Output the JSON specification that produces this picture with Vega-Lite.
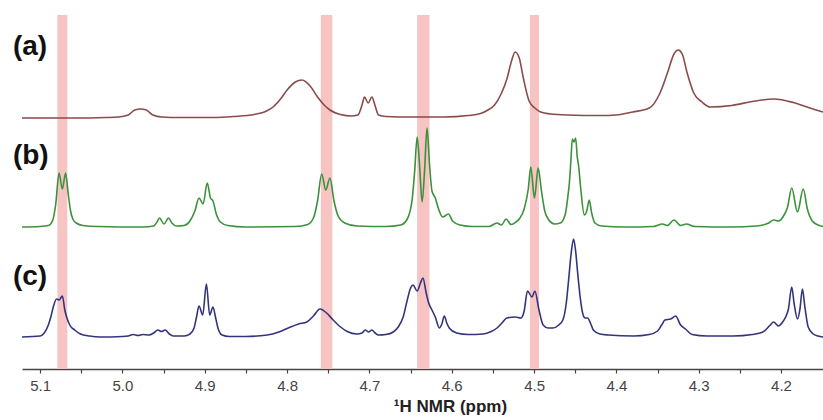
{
  "$schema": "https://vega.github.io/schema/vega-lite/v6.json",
  "width": 801,
  "height": 354,
  "autosize": {"type": "none"},
  "padding": {"left": 22, "top": 15, "right": 0, "bottom": 51},
  "background": "white",
  "config": {"view": {"stroke": null}},
  "datasets": {
    "bands": [
      {"lo": 5.067, "hi": 5.079, "y0": 0, "y1": 354},
      {"lo": 4.745, "hi": 4.759, "y0": 0, "y1": 354},
      {"lo": 4.627, "hi": 4.642, "y0": 0, "y1": 354},
      {"lo": 4.494, "hi": 4.505, "y0": 0, "y1": 354}
    ],
    "labels": [
      {"t": "(a)", "ppm": 5.133, "v": 314},
      {"t": "(b)", "ppm": 5.133, "v": 205},
      {"t": "(c)", "ppm": 5.133, "v": 84}
    ],
    "spec": [
      {"s":"a","ppm":5.122,"v":251},{"s":"a","ppm":5.06,"v":251},{"s":"a","ppm":5.02,"v":251.5},{"s":"a","ppm":5.005,"v":252},{"s":"a","ppm":4.993,"v":254},{"s":"a","ppm":4.985,"v":259},{"s":"a","ppm":4.978,"v":260},{"s":"a","ppm":4.971,"v":259},{"s":"a","ppm":4.963,"v":254},{"s":"a","ppm":4.952,"v":252},{"s":"a","ppm":4.93,"v":251.5},{"s":"a","ppm":4.89,"v":251.5},{"s":"a","ppm":4.865,"v":252.5},{"s":"a","ppm":4.84,"v":254.5},{"s":"a","ppm":4.825,"v":258},{"s":"a","ppm":4.817,"v":262},{"s":"a","ppm":4.808,"v":270},{"s":"a","ppm":4.8,"v":279},{"s":"a","ppm":4.79,"v":287},{"s":"a","ppm":4.782,"v":289},{"s":"a","ppm":4.772,"v":283},{"s":"a","ppm":4.763,"v":272},{"s":"a","ppm":4.755,"v":264},{"s":"a","ppm":4.748,"v":259},{"s":"a","ppm":4.735,"v":254.5},{"s":"a","ppm":4.722,"v":253},{"s":"a","ppm":4.714,"v":254},{"s":"a","ppm":4.709,"v":264},{"s":"a","ppm":4.706,"v":272},{"s":"a","ppm":4.7015,"v":266},{"s":"a","ppm":4.697,"v":272},{"s":"a","ppm":4.693,"v":263},{"s":"a","ppm":4.689,"v":254},{"s":"a","ppm":4.68,"v":252.5},{"s":"a","ppm":4.65,"v":252},{"s":"a","ppm":4.61,"v":252},{"s":"a","ppm":4.58,"v":253.5},{"s":"a","ppm":4.565,"v":255.5},{"s":"a","ppm":4.556,"v":259},{"s":"a","ppm":4.548,"v":264},{"s":"a","ppm":4.54,"v":275},{"s":"a","ppm":4.533,"v":290},{"s":"a","ppm":4.527,"v":309},{"s":"a","ppm":4.523,"v":317},{"s":"a","ppm":4.518,"v":311},{"s":"a","ppm":4.513,"v":291},{"s":"a","ppm":4.506,"v":268},{"s":"a","ppm":4.499,"v":261},{"s":"a","ppm":4.492,"v":257},{"s":"a","ppm":4.48,"v":255},{"s":"a","ppm":4.46,"v":254},{"s":"a","ppm":4.42,"v":253.5},{"s":"a","ppm":4.4,"v":254},{"s":"a","ppm":4.38,"v":257},{"s":"a","ppm":4.36,"v":261},{"s":"a","ppm":4.347,"v":276},{"s":"a","ppm":4.338,"v":296},{"s":"a","ppm":4.33,"v":315},{"s":"a","ppm":4.325,"v":319},{"s":"a","ppm":4.32,"v":315},{"s":"a","ppm":4.314,"v":296},{"s":"a","ppm":4.306,"v":276},{"s":"a","ppm":4.296,"v":267},{"s":"a","ppm":4.286,"v":262},{"s":"a","ppm":4.26,"v":263.5},{"s":"a","ppm":4.235,"v":267.5},{"s":"a","ppm":4.209,"v":270},{"s":"a","ppm":4.185,"v":266.5},{"s":"a","ppm":4.165,"v":261},{"s":"a","ppm":4.149,"v":257},

      {"s":"b","ppm":5.122,"v":142},{"s":"b","ppm":5.1,"v":142.5},{"s":"b","ppm":5.09,"v":143.5},{"s":"b","ppm":5.085,"v":148},{"s":"b","ppm":5.081,"v":165},{"s":"b","ppm":5.077,"v":196},{"s":"b","ppm":5.073,"v":180},{"s":"b","ppm":5.069,"v":196},{"s":"b","ppm":5.066,"v":176},{"s":"b","ppm":5.063,"v":158},{"s":"b","ppm":5.06,"v":149.5},{"s":"b","ppm":5.056,"v":146},{"s":"b","ppm":5.048,"v":143.5},{"s":"b","ppm":5.03,"v":142.5},{"s":"b","ppm":4.975,"v":142},{"s":"b","ppm":4.962,"v":143},{"s":"b","ppm":4.958,"v":147},{"s":"b","ppm":4.955,"v":151},{"s":"b","ppm":4.9495,"v":145},{"s":"b","ppm":4.944,"v":151},{"s":"b","ppm":4.94,"v":146},{"s":"b","ppm":4.934,"v":143},{"s":"b","ppm":4.925,"v":143.5},{"s":"b","ppm":4.918,"v":148},{"s":"b","ppm":4.912,"v":158},{"s":"b","ppm":4.907,"v":171},{"s":"b","ppm":4.902,"v":165},{"s":"b","ppm":4.897,"v":186},{"s":"b","ppm":4.893,"v":171},{"s":"b","ppm":4.89,"v":168},{"s":"b","ppm":4.886,"v":155},{"s":"b","ppm":4.881,"v":147},{"s":"b","ppm":4.872,"v":143.5},{"s":"b","ppm":4.85,"v":142},{"s":"b","ppm":4.79,"v":142.5},{"s":"b","ppm":4.775,"v":144.5},{"s":"b","ppm":4.768,"v":151},{"s":"b","ppm":4.763,"v":168},{"s":"b","ppm":4.758,"v":195},{"s":"b","ppm":4.753,"v":179},{"s":"b","ppm":4.748,"v":191},{"s":"b","ppm":4.743,"v":168},{"s":"b","ppm":4.738,"v":153},{"s":"b","ppm":4.73,"v":146},{"s":"b","ppm":4.715,"v":143},{"s":"b","ppm":4.68,"v":142.5},{"s":"b","ppm":4.662,"v":144},{"s":"b","ppm":4.654,"v":150},{"s":"b","ppm":4.648,"v":170},{"s":"b","ppm":4.645,"v":198},{"s":"b","ppm":4.642,"v":232},{"s":"b","ppm":4.639,"v":203},{"s":"b","ppm":4.636,"v":167},{"s":"b","ppm":4.633,"v":198},{"s":"b","ppm":4.63,"v":241},{"s":"b","ppm":4.627,"v":205},{"s":"b","ppm":4.624,"v":178},{"s":"b","ppm":4.62,"v":171},{"s":"b","ppm":4.616,"v":160},{"s":"b","ppm":4.611,"v":152},{"s":"b","ppm":4.604,"v":155},{"s":"b","ppm":4.599,"v":148},{"s":"b","ppm":4.59,"v":144},{"s":"b","ppm":4.575,"v":142.5},{"s":"b","ppm":4.555,"v":142.5},{"s":"b","ppm":4.545,"v":146},{"s":"b","ppm":4.5395,"v":144},{"s":"b","ppm":4.534,"v":150},{"s":"b","ppm":4.528,"v":144.5},{"s":"b","ppm":4.522,"v":147},{"s":"b","ppm":4.518,"v":150},{"s":"b","ppm":4.512,"v":160},{"s":"b","ppm":4.507,"v":180},{"s":"b","ppm":4.504,"v":202},{"s":"b","ppm":4.4995,"v":171},{"s":"b","ppm":4.495,"v":201},{"s":"b","ppm":4.491,"v":178},{"s":"b","ppm":4.487,"v":158},{"s":"b","ppm":4.482,"v":149},{"s":"b","ppm":4.475,"v":145},{"s":"b","ppm":4.468,"v":146},{"s":"b","ppm":4.462,"v":155},{"s":"b","ppm":4.459,"v":172},{"s":"b","ppm":4.457,"v":187},{"s":"b","ppm":4.455,"v":212},{"s":"b","ppm":4.4535,"v":230},{"s":"b","ppm":4.4515,"v":227},{"s":"b","ppm":4.4495,"v":231},{"s":"b","ppm":4.4475,"v":212},{"s":"b","ppm":4.446,"v":204},{"s":"b","ppm":4.443,"v":178},{"s":"b","ppm":4.439,"v":154},{"s":"b","ppm":4.436,"v":158},{"s":"b","ppm":4.433,"v":169},{"s":"b","ppm":4.43,"v":156},{"s":"b","ppm":4.426,"v":146},{"s":"b","ppm":4.418,"v":143},{"s":"b","ppm":4.39,"v":142},{"s":"b","ppm":4.355,"v":142.5},{"s":"b","ppm":4.344,"v":145},{"s":"b","ppm":4.338,"v":143.5},{"s":"b","ppm":4.33,"v":149},{"s":"b","ppm":4.322,"v":143.5},{"s":"b","ppm":4.315,"v":145},{"s":"b","ppm":4.305,"v":142.5},{"s":"b","ppm":4.26,"v":142},{"s":"b","ppm":4.23,"v":143},{"s":"b","ppm":4.215,"v":146},{"s":"b","ppm":4.209,"v":149},{"s":"b","ppm":4.203,"v":148},{"s":"b","ppm":4.197,"v":153},{"s":"b","ppm":4.192,"v":162},{"s":"b","ppm":4.187,"v":181},{"s":"b","ppm":4.18,"v":157},{"s":"b","ppm":4.173,"v":180},{"s":"b","ppm":4.168,"v":160},{"s":"b","ppm":4.162,"v":148},{"s":"b","ppm":4.155,"v":144},{"s":"b","ppm":4.149,"v":142.5},

      {"s":"c","ppm":5.122,"v":32},{"s":"c","ppm":5.1,"v":33},{"s":"c","ppm":5.095,"v":36},{"s":"c","ppm":5.09,"v":44},{"s":"c","ppm":5.087,"v":52},{"s":"c","ppm":5.084,"v":62},{"s":"c","ppm":5.08,"v":70},{"s":"c","ppm":5.077,"v":69},{"s":"c","ppm":5.073,"v":73},{"s":"c","ppm":5.07,"v":59},{"s":"c","ppm":5.067,"v":50},{"s":"c","ppm":5.064,"v":44},{"s":"c","ppm":5.058,"v":39},{"s":"c","ppm":5.051,"v":35},{"s":"c","ppm":5.04,"v":33},{"s":"c","ppm":5.027,"v":32},{"s":"c","ppm":5.0,"v":32.5},{"s":"c","ppm":4.993,"v":33},{"s":"c","ppm":4.987,"v":34.5},{"s":"c","ppm":4.981,"v":33.5},{"s":"c","ppm":4.975,"v":34.5},{"s":"c","ppm":4.968,"v":34},{"s":"c","ppm":4.962,"v":36},{"s":"c","ppm":4.957,"v":39},{"s":"c","ppm":4.9525,"v":37.5},{"s":"c","ppm":4.948,"v":39},{"s":"c","ppm":4.943,"v":35},{"s":"c","ppm":4.938,"v":33},{"s":"c","ppm":4.925,"v":33},{"s":"c","ppm":4.918,"v":35},{"s":"c","ppm":4.913,"v":41},{"s":"c","ppm":4.91,"v":52},{"s":"c","ppm":4.907,"v":63},{"s":"c","ppm":4.9025,"v":54},{"s":"c","ppm":4.898,"v":85},{"s":"c","ppm":4.894,"v":54},{"s":"c","ppm":4.89,"v":62},{"s":"c","ppm":4.887,"v":52},{"s":"c","ppm":4.884,"v":41},{"s":"c","ppm":4.879,"v":34},{"s":"c","ppm":4.87,"v":32.5},{"s":"c","ppm":4.85,"v":32.5},{"s":"c","ppm":4.824,"v":34},{"s":"c","ppm":4.81,"v":37},{"s":"c","ppm":4.796,"v":42},{"s":"c","ppm":4.786,"v":45},{"s":"c","ppm":4.776,"v":47},{"s":"c","ppm":4.768,"v":53},{"s":"c","ppm":4.76,"v":60},{"s":"c","ppm":4.752,"v":56},{"s":"c","ppm":4.744,"v":49},{"s":"c","ppm":4.735,"v":42},{"s":"c","ppm":4.727,"v":37.5},{"s":"c","ppm":4.715,"v":35},{"s":"c","ppm":4.709,"v":36},{"s":"c","ppm":4.705,"v":39},{"s":"c","ppm":4.701,"v":37},{"s":"c","ppm":4.697,"v":39},{"s":"c","ppm":4.693,"v":36},{"s":"c","ppm":4.689,"v":34},{"s":"c","ppm":4.68,"v":34.5},{"s":"c","ppm":4.671,"v":37},{"s":"c","ppm":4.665,"v":42},{"s":"c","ppm":4.659,"v":52},{"s":"c","ppm":4.654,"v":69},{"s":"c","ppm":4.65,"v":81},{"s":"c","ppm":4.647,"v":84},{"s":"c","ppm":4.642,"v":78},{"s":"c","ppm":4.638,"v":86},{"s":"c","ppm":4.635,"v":91},{"s":"c","ppm":4.631,"v":76},{"s":"c","ppm":4.628,"v":66},{"s":"c","ppm":4.624,"v":59},{"s":"c","ppm":4.62,"v":52},{"s":"c","ppm":4.615,"v":41},{"s":"c","ppm":4.612,"v":45},{"s":"c","ppm":4.609,"v":53},{"s":"c","ppm":4.606,"v":46},{"s":"c","ppm":4.603,"v":41},{"s":"c","ppm":4.594,"v":36},{"s":"c","ppm":4.58,"v":34.5},{"s":"c","ppm":4.562,"v":35},{"s":"c","ppm":4.552,"v":37.5},{"s":"c","ppm":4.545,"v":41},{"s":"c","ppm":4.539,"v":46},{"s":"c","ppm":4.533,"v":51},{"s":"c","ppm":4.523,"v":52},{"s":"c","ppm":4.516,"v":51},{"s":"c","ppm":4.512,"v":58},{"s":"c","ppm":4.508,"v":78},{"s":"c","ppm":4.5025,"v":72},{"s":"c","ppm":4.499,"v":78},{"s":"c","ppm":4.494,"v":59},{"s":"c","ppm":4.489,"v":44},{"s":"c","ppm":4.483,"v":41},{"s":"c","ppm":4.477,"v":41},{"s":"c","ppm":4.47,"v":44},{"s":"c","ppm":4.465,"v":49},{"s":"c","ppm":4.461,"v":65},{"s":"c","ppm":4.458,"v":89},{"s":"c","ppm":4.455,"v":115},{"s":"c","ppm":4.452,"v":130},{"s":"c","ppm":4.4495,"v":118},{"s":"c","ppm":4.447,"v":96},{"s":"c","ppm":4.444,"v":72},{"s":"c","ppm":4.441,"v":56},{"s":"c","ppm":4.438,"v":51},{"s":"c","ppm":4.435,"v":51},{"s":"c","ppm":4.431,"v":45},{"s":"c","ppm":4.428,"v":39},{"s":"c","ppm":4.42,"v":35},{"s":"c","ppm":4.41,"v":34},{"s":"c","ppm":4.379,"v":33},{"s":"c","ppm":4.36,"v":34.5},{"s":"c","ppm":4.35,"v":38},{"s":"c","ppm":4.345,"v":44},{"s":"c","ppm":4.341,"v":49},{"s":"c","ppm":4.334,"v":50},{"s":"c","ppm":4.328,"v":53},{"s":"c","ppm":4.322,"v":44},{"s":"c","ppm":4.316,"v":40},{"s":"c","ppm":4.308,"v":34.5},{"s":"c","ppm":4.29,"v":33},{"s":"c","ppm":4.258,"v":33},{"s":"c","ppm":4.235,"v":34.5},{"s":"c","ppm":4.222,"v":37},{"s":"c","ppm":4.213,"v":44},{"s":"c","ppm":4.209,"v":47},{"s":"c","ppm":4.203,"v":43},{"s":"c","ppm":4.198,"v":47},{"s":"c","ppm":4.195,"v":51},{"s":"c","ppm":4.191,"v":60},{"s":"c","ppm":4.187,"v":82},{"s":"c","ppm":4.184,"v":65},{"s":"c","ppm":4.18,"v":50},{"s":"c","ppm":4.177,"v":60},{"s":"c","ppm":4.174,"v":80},{"s":"c","ppm":4.171,"v":62},{"s":"c","ppm":4.167,"v":42},{"s":"c","ppm":4.161,"v":35},{"s":"c","ppm":4.155,"v":33},{"s":"c","ppm":4.149,"v":32}
    ]
  },
  "layer": [
    {
      "data": {"name": "bands"},
      "mark": {"type": "rect", "color": "#f7c3c3"},
      "encoding": {
        "x": {
          "field": "lo", "type": "quantitative",
          "scale": {"domain": [4.149, 5.122], "reverse": true, "nice": false, "zero": false},
          "axis": {
            "values": [5.1, 5.05, 5.0, 4.95, 4.9, 4.85, 4.8, 4.75, 4.7, 4.65, 4.6, 4.55, 4.5, 4.45, 4.4, 4.35, 4.3, 4.25, 4.2],
            "labelExpr": "abs(datum.value*10 - round(datum.value*10)) < 0.01 ? format(datum.value, '.1f') : ''",
            "grid": false,
            "domainColor": "#444",
            "domainWidth": 1.5,
            "tickColor": "#444",
            "tickWidth": 1.2,
            "tickSize": 4,
            "labelFont": "Liberation Sans",
            "labelFontSize": 15,
            "labelColor": "#444",
            "labelPadding": 5,
            "title": "¹H NMR (ppm)",
            "titleFont": "Liberation Sans",
            "titleFontSize": 17,
            "titleFontWeight": "bold",
            "titleColor": "#222",
            "titleX": 428,
            "titleY": 29,
            "titleBaseline": "top"
          }
        },
        "x2": {"field": "hi"},
        "y": {"field": "y0", "type": "quantitative", "scale": {"domain": [0, 354], "nice": false, "zero": false}, "axis": null},
        "y2": {"field": "y1"}
      }
    },
    {
      "data": {"name": "spec"},
      "mark": {"type": "line", "interpolate": "monotone", "strokeWidth": 1.6},
      "encoding": {
        "x": {"field": "ppm", "type": "quantitative"},
        "y": {"field": "v", "type": "quantitative"},
        "color": {"field": "s", "type": "nominal", "scale": {"domain": ["a", "b", "c"], "range": ["#8a4b4b", "#3b923b", "#34347e"]}, "legend": null}
      }
    },
    {
      "data": {"name": "labels"},
      "mark": {"type": "text", "align": "left", "baseline": "alphabetic", "font": "Liberation Sans", "fontWeight": "bold", "fontSize": 28, "color": "#111"},
      "encoding": {
        "x": {"field": "ppm", "type": "quantitative"},
        "y": {"field": "v", "type": "quantitative"},
        "text": {"field": "t"}
      }
    }
  ]
}
